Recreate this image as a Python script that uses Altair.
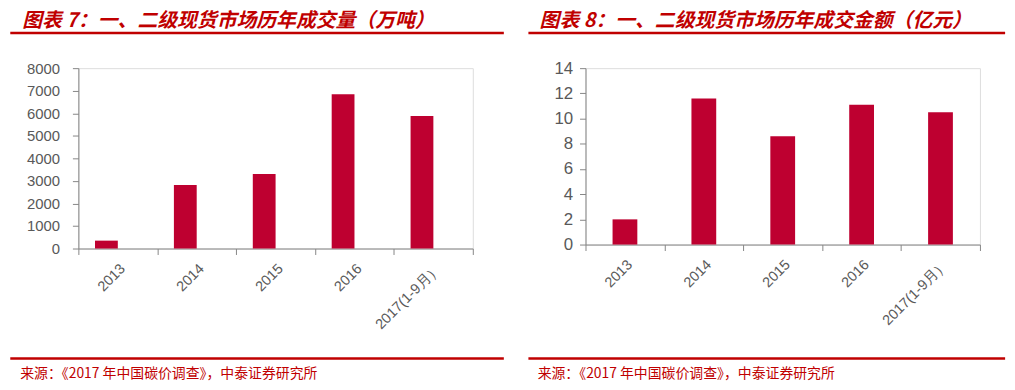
import altair as alt
import pandas as pd

categories = ["2013", "2014", "2015", "2016", "2017(1-9月）"]
volume = [350, 2820, 3310, 6840, 5880]          # 万吨
amount = [2.0, 11.6, 8.6, 11.1, 10.5]           # 亿元
title_left = "图表 7：一、二级现货市场历年成交量（万吨）"
title_right = "图表 8：一、二级现货市场历年成交金额（亿元）"
source_text = "来源：《2017 年中国碳价调查》，中泰证券研究所"
y_ticks_left = [0, 1000, 2000, 3000, 4000, 5000, 6000, 7000, 8000]
y_ticks_right = [0, 2, 4, 6, 8, 10, 12, 14]

BAR = "#BE0030"
RED = "#C00000"
AX = "#868686"
LAB = "#595959"
FONT = "Liberation Sans"
CJK = "Noto Sans CJK SC"

one = pd.DataFrame({"k": [0]})


def panel(values, ymax, yticks, height, bar_w, bar_off, rule_x, rule_x2, title,
          title_x, src_x, ylab_size, ylab_pad):
    df = pd.DataFrame({"cat": categories, "val": values})
    bars = alt.Chart(df).mark_bar(color=BAR, width=bar_w, xOffset=bar_off).encode(
        x=alt.X("cat:N", sort=categories, title=None,
                scale=alt.Scale(paddingInner=0, paddingOuter=0),
                axis=alt.Axis(labelAngle=-45, labelFont=FONT, labelFontSize=14.5,
                              labelColor=LAB, domainColor=AX, tickColor=AX,
                              tickSize=6, tickBand="extent", labelPadding=7,
                              grid=False)),
        y=alt.Y("val:Q", title=None,
                scale=alt.Scale(domain=[0, ymax], nice=False),
                axis=alt.Axis(values=yticks, format="d", labelFont=FONT,
                              labelFontSize=ylab_size,
                              labelColor=LAB, domainColor=AX, tickColor=AX,
                              tickSize=6, grid=False, labelPadding=ylab_pad)),
    )
    top_rule = alt.Chart(one).mark_rule(color=RED, strokeWidth=2.5).encode(
        x=alt.value(rule_x), x2=alt.value(rule_x2), y=alt.value(-35.5))
    bot_rule = alt.Chart(one).mark_rule(color=RED, strokeWidth=2.5).encode(
        x=alt.value(rule_x), x2=alt.value(rule_x2), y=alt.value(293))
    ttl = alt.Chart(one).mark_text(text=title, font=CJK, fontSize=20, fontWeight="bold",
                                   fontStyle="italic", color=RED, align="left",
                                   baseline="middle").encode(
        x=alt.value(title_x), y=alt.value(-48))
    src = alt.Chart(one).mark_text(text=source_text, font=CJK, fontSize=14,
                                   color=RED, align="left",
                                   baseline="middle").encode(
        x=alt.value(src_x), y=alt.value(309))
    return alt.layer(bars, top_rule, bot_rule, ttl, src).properties(width=398, height=height)


left = panel(volume, 8000, y_ticks_left, 182, 23, -11.5, -68.7, 429.3, title_left,
             -56.7, -58.7, 15, 13)
right = panel(amount, 14, y_ticks_right, 178, 25, 0, -57.6, 423.4, title_right,
              -46.3, -48.3, 17, 7)

chart = alt.hconcat(left, right, spacing=19.7).properties(
    padding={"left": 0, "top": 0, "right": 0, "bottom": 0}
).configure_view(stroke=None).configure(background="white")

chart.save("out.html", embed_options={"renderer": "svg", "actions": False})
